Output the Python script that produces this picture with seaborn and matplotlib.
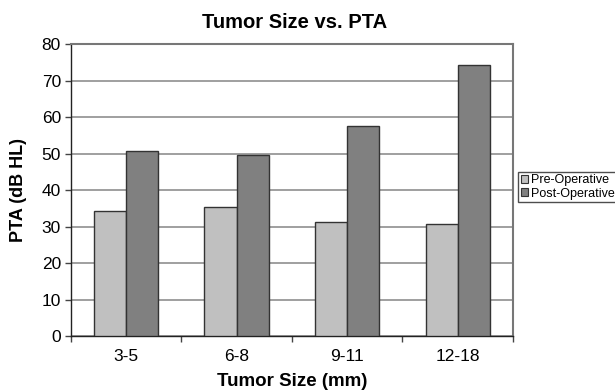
import matplotlib
matplotlib.use("Agg")
import matplotlib.pyplot as plt
import seaborn as sns
import pandas as pd
from matplotlib.patches import Patch

# Mean pure-tone average by tumor size group
categories = ["3-5", "6-8", "9-11", "12-18"]
pre_op = [34.3, 35.4, 31.4, 30.9]
post_op = [50.8, 49.6, 57.5, 74.4]
series = ["Pre-Operative", "Post-Operative"]
y_ticks = [0, 10, 20, 30, 40, 50, 60, 70, 80]

df = pd.DataFrame({
    "size": categories * 2,
    "pta": pre_op + post_op,
    "phase": [series[0]] * len(categories) + [series[1]] * len(categories),
})

sns.set_theme(style="white")
plt.rcParams["font.family"] = ["Liberation Sans", "DejaVu Sans"]
plt.rcParams["text.color"] = "black"
plt.rcParams["axes.labelcolor"] = "black"

colors = {"Pre-Operative": "#c0c0c0", "Post-Operative": "#808080"}

fig = plt.figure(figsize=(6.15, 3.92), dpi=100)
ax = fig.add_axes([70.7 / 615, 1 - 336.3 / 392, (513 - 70.7) / 615, (336.3 - 44.3) / 392])

sns.barplot(data=df, x="size", y="pta", hue="phase", order=categories,
            hue_order=series, palette=colors, width=0.58, dodge=True,
            edgecolor="#333333", linewidth=1.0, errorbar=None, legend=False,
            ax=ax, zorder=3, saturation=1)

ax.set_ylim(0, 80)
ax.set_xlim(-0.5, len(categories) - 0.5)
ax.set_yticks(y_ticks)
ax.set_yticklabels([str(v) for v in y_ticks], fontsize=12.5, color="black")
ax.yaxis.grid(True, color="#858585", linewidth=1.1, zorder=0)
ax.set_axisbelow(True)

# category labels at centres, tick marks at group boundaries
ax.set_xticks(range(len(categories)))
ax.set_xticklabels(categories, fontsize=12.5, color="black")
ax.set_xticks([i - 0.5 for i in range(len(categories) + 1)], minor=True)
ax.tick_params(axis="x", which="major", length=0, pad=9)
ax.tick_params(axis="x", which="minor", length=4, width=1, color="#444444", direction="out")
ax.tick_params(axis="y", which="major", length=4, width=1, color="#444444", direction="out", pad=3)
ax.tick_params(left=True, bottom=True, which="both")

for side in ["left", "bottom"]:
    ax.spines[side].set_color("#222222")
    ax.spines[side].set_linewidth(1.0)
for side in ["top", "right"]:
    ax.spines[side].set_color("#777777")
    ax.spines[side].set_linewidth(1.5)

ax.set_xlabel("Tumor Size (mm)", fontsize=13.5, fontweight="bold", va="center", color="black")
ax.xaxis.set_label_coords(0.5, (336.3 - 381) / 292)
ax.set_ylabel("PTA (dB HL)", fontsize=13, fontweight="bold", va="center", color="black")
ax.yaxis.set_label_coords((19 - 70.7) / 442.3, 0.5)
fig.text(295 / 615, 1 - 22 / 392, "Tumor Size vs. PTA", ha="center", va="center",
         fontsize=14.5, fontweight="bold", color="black")

handles = [Patch(facecolor=colors[s], edgecolor="#333333", linewidth=0.8, label=s) for s in series]
leg = fig.legend(handles=handles, loc="upper left", bbox_to_anchor=(518 / 615, 1 - 172 / 392),
                 fontsize=9, frameon=True, fancybox=False, handlelength=0.6,
                 handleheight=0.6, handletextpad=0.2, borderpad=0.2, labelspacing=0.1,
                 borderaxespad=0, labelcolor="black")
leg.get_frame().set_edgecolor("#222222")
leg.get_frame().set_linewidth(1.0)

fig.savefig("out.png", dpi=100)
